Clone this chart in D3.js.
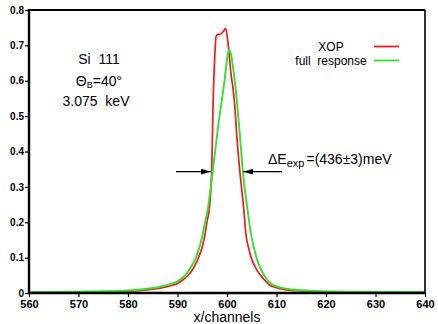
<!DOCTYPE html>
<html><head><meta charset="utf-8">
<script src="https://cdn.jsdelivr.net/npm/d3@7"></script>
<style>html,body{margin:0;padding:0;background:#fff;}svg{display:block;}</style>
</head><body>
<svg id="c" width="438" height="324"></svg>
<script>
// ---- data ----
const xopChannels = [560,570,575,580,584,587,589,590,591,592,593,594,595,595.6,596,596.4,596.9,597.2,597.5,597.8,598.2,598.6,599.0,599.4,599.7,600.0,600.4,600.8,601.2,601.5,602.0,602.6,603.4,603.8,604.5,605.0,605.7,606.5,607.5,608.7,610,612,615,620,630,640];
const xopValues   = [0.001,0.002,0.003,0.005,0.009,0.015,0.022,0.027,0.036,0.048,0.065,0.092,0.13,0.169,0.205,0.235,0.343,0.54,0.66,0.725,0.732,0.731,0.735,0.742,0.748,0.73,0.68,0.62,0.58,0.54,0.44,0.343,0.235,0.169,0.12,0.095,0.074,0.055,0.038,0.022,0.015,0.009,0.006,0.004,0.003,0.002];
const fullChannels = [560,570,575,580,584,587,589,590,591,592,593,594,595,595.5,596.1,596.6,597.1,597.6,598.2,598.9,599.5,600.0,600.4,600.8,601.3,601.8,602.2,602.7,603.2,603.8,604.3,604.8,605.4,606.3,607.3,608.7,610.7,613,616,620,630,640];
const fullValues   = [0.002,0.004,0.005,0.007,0.012,0.019,0.027,0.033,0.043,0.058,0.08,0.11,0.16,0.195,0.235,0.285,0.343,0.40,0.47,0.54,0.60,0.66,0.687,0.675,0.63,0.57,0.51,0.43,0.343,0.27,0.22,0.17,0.13,0.085,0.055,0.028,0.016,0.01,0.007,0.004,0.003,0.003];
const xTicks = [560,570,580,590,600,610,620,630,640];
const yTicks = [0,0.1,0.2,0.3,0.4,0.5,0.6,0.7,0.8];
const seriesNames = ["XOP","full\u00a0\u00a0response"];
const seriesColors = ["#ee1c1c","#33e033"];
const fwhmLevel = 0.343;
const fwhmLeft = 596.9, fwhmRight = 603.2;

// ---- layout ----
const svg = d3.select("#c");
const L = 29, R = 425, T = 10, B = 293;
const x = d3.scaleLinear().domain([560,640]).range([L,R]);
const y = d3.scaleLinear().domain([0,0.8]).range([B,T]);

// axes
const xAxis = svg.append("g").attr("transform",`translate(0,${B})`)
  .call(d3.axisBottom(x).tickValues(xTicks).tickSize(4).tickPadding(3).tickFormat(d3.format("d")));
xAxis.select(".domain").remove();
xAxis.selectAll("line").attr("stroke","#000").attr("stroke-width",1.2);
xAxis.selectAll("text").attr("font-family","Liberation Sans, Arial, sans-serif").attr("font-weight","bold").attr("font-size",11).attr("fill","#000");

const yAxis = svg.append("g").attr("transform",`translate(${L},0)`)
  .call(d3.axisLeft(y).tickValues(yTicks).tickSize(4).tickPadding(1).tickFormat(d => d===0 ? "0" : d3.format(".1f")(d)));
yAxis.select(".domain").remove();
yAxis.selectAll("line").attr("stroke","#000").attr("stroke-width",1.2);
yAxis.selectAll("text").attr("font-family","Liberation Sans, Arial, sans-serif").attr("font-weight","bold").attr("font-size",10).attr("fill","#000");

// curves
const line = d3.line().x(d=>x(d[0])).y(d=>y(d[1])).curve(d3.curveMonotoneX);
const xopData = xopChannels.map((c,i)=>[c,xopValues[i]]);
const fullData = fullChannels.map((c,i)=>[c,fullValues[i]]);
svg.append("path").datum(xopData).attr("d",line).attr("fill","none").attr("stroke",seriesColors[0]).attr("stroke-width",1.7);
svg.append("path").datum(fullData).attr("d",line).attr("fill","none").attr("stroke",seriesColors[1]).attr("stroke-width",1.9);

// frame
svg.append("line").attr("x1",L).attr("x2",R).attr("y1",T).attr("y2",T).attr("stroke","#000").attr("stroke-width",2);
svg.append("line").attr("x1",R).attr("x2",R).attr("y1",T).attr("y2",B).attr("stroke","#000").attr("stroke-width",1.6);
svg.append("line").attr("x1",L).attr("x2",L).attr("y1",T-1).attr("y2",B+1).attr("stroke","#000").attr("stroke-width",2.4);
svg.append("line").attr("x1",L-1).attr("x2",R+1).attr("y1",B).attr("y2",B).attr("stroke","#000").attr("stroke-width",2.4);

// annotation text
const ff = "Liberation Sans, Arial, sans-serif";
svg.append("text").attr("x",99).attr("y",64).attr("text-anchor","middle").attr("font-family",ff).attr("font-size",14).text("Si\u00a0\u00a0111");
const th = svg.append("text").attr("x",99).attr("y",86).attr("text-anchor","middle").attr("font-family",ff).attr("font-size",14);
th.append("tspan").text("Θ");
th.append("tspan").attr("font-size",9).attr("dy",2).text("B");
th.append("tspan").attr("dy",-2).text("=40°");
svg.append("text").attr("x",96).attr("y",106).attr("text-anchor","middle").attr("font-family",ff).attr("font-size",14).text("3.075\u00a0\u00a0keV");

// legend
const legY = [46.5,60.5];
seriesNames.forEach((n,i)=>{
  svg.append("text").attr("x",331).attr("y",legY[i]+4.5).attr("text-anchor","middle").attr("font-family",ff).attr("font-size",12).text(n);
  svg.append("line").attr("x1",374).attr("x2",399).attr("y1",legY[i]).attr("y2",legY[i]).attr("stroke",seriesColors[i]).attr("stroke-width",1.8);
});

// FWHM arrows
const ay = y(fwhmLevel);
svg.append("defs").append("marker").attr("id","ah").attr("viewBox","0 0 10 6").attr("refX",10).attr("refY",3)
  .attr("markerWidth",10).attr("markerHeight",6).attr("markerUnits","userSpaceOnUse").attr("orient","auto")
  .append("path").attr("d","M0,0L10,3L0,6Z").attr("fill","#000");
svg.append("line").attr("x1",176).attr("x2",x(fwhmLeft)-1).attr("y1",ay).attr("y2",ay).attr("stroke","#000").attr("stroke-width",1.2).attr("marker-end","url(#ah)");
svg.append("line").attr("x1",282).attr("x2",x(fwhmRight)+0.5).attr("y1",ay).attr("y2",ay).attr("stroke","#000").attr("stroke-width",1.2).attr("marker-end","url(#ah)");

const de = svg.append("text").attr("x",268).attr("y",164).attr("font-family",ff).attr("font-size",14);
de.append("tspan").text("ΔE");
de.append("tspan").attr("font-size",11).attr("dy",3).text("exp");
de.append("tspan").attr("dy",-3).attr("dx",2).text("=(436±3)meV");

// x label
svg.append("text").attr("x",227).attr("y",322).attr("text-anchor","middle").attr("font-family",ff).attr("font-size",14).text("x/channels");
</script>
</body></html>
